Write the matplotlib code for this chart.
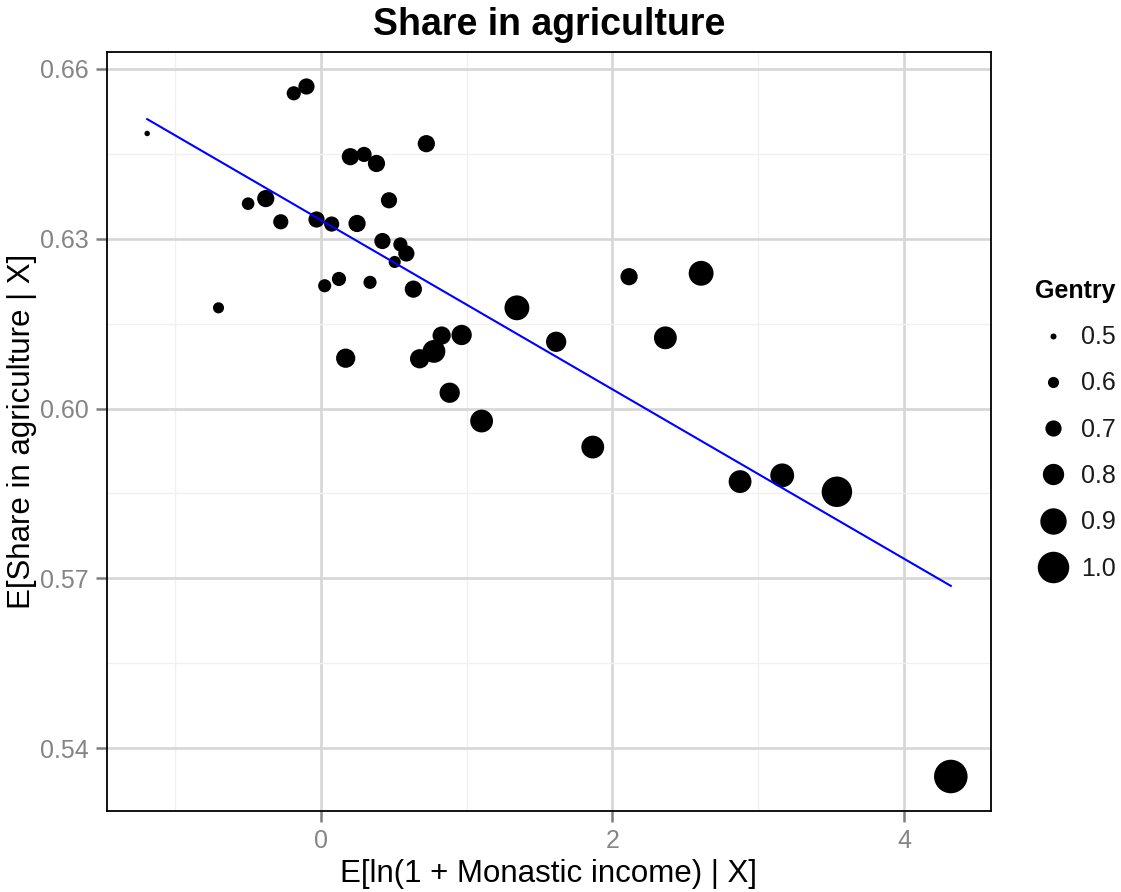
import numpy as np
import matplotlib
matplotlib.use('Agg')
import matplotlib.pyplot as plt
from matplotlib.lines import Line2D
from matplotlib.ticker import FixedLocator, FormatStrFormatter

plt.rcParams['font.family'] = ['Liberation Sans', 'DejaVu Sans']

# ---- data ----
monastic = np.array([-1.190, -0.185, -0.098, 0.724, 0.203, 0.297, 0.382, 0.468,
                     -0.498, -0.377, -0.274, -0.029, 0.075, 0.249, 0.423, 0.546,
                     0.587, 0.507, 0.125, 0.027, 0.338, 0.635, -0.701, 0.171,
                     0.829, 0.966, 0.776, 0.678, 1.345, 1.614, 2.114, 2.608,
                     2.363, 0.884, 1.103, 1.865, 2.875, 3.164, 3.539, 4.320])
agri = np.array([0.6486, 0.6557, 0.6569, 0.6468, 0.6445, 0.6449, 0.6433, 0.6368,
                 0.6362, 0.6371, 0.6330, 0.6334, 0.6326, 0.6327, 0.6296, 0.6290,
                 0.6274, 0.6259, 0.6229, 0.6217, 0.6223, 0.6211, 0.6178, 0.6089,
                 0.6129, 0.6130, 0.6101, 0.6088, 0.6178, 0.6118, 0.6233, 0.6239,
                 0.6125, 0.6028, 0.5978, 0.5932, 0.5871, 0.5882, 0.5853, 0.5350])
gentry = np.array([0.49, 0.66, 0.70, 0.72, 0.72, 0.68, 0.72, 0.70,
                   0.63, 0.72, 0.68, 0.70, 0.68, 0.72, 0.70, 0.66,
                   0.70, 0.62, 0.66, 0.64, 0.64, 0.72, 0.60, 0.76,
                   0.74, 0.78, 0.83, 0.76, 0.87, 0.78, 0.72, 0.87,
                   0.83, 0.78, 0.83, 0.83, 0.83, 0.85, 0.98, 1.04])

legend_levels = [0.5, 0.6, 0.7, 0.8, 0.9, 1.0]
legend_labels = ['0.5', '0.6', '0.7', '0.8', '0.9', '1.0']
x_major = [0, 2, 4]
x_minor = [-1, 1, 3]
y_major = [0.54, 0.57, 0.60, 0.63, 0.66]
y_minor = [0.555, 0.585, 0.615, 0.645]

title = 'Share in agriculture'
xlabel = 'E[ln(1 + Monastic income) | X]'
ylabel = 'E[Share in agriculture | X]'


def diam_pt(g):
    return (6 + 51 * (np.asarray(g, dtype=float) - 0.5)) * 0.72


W, H = 1121, 892
fig = plt.figure(figsize=(W / 100, H / 100), dpi=100)
left, right, top, bottom = 107, 991, 52, 811
ax = fig.add_axes([left / W, 1 - bottom / H, (right - left) / W, (bottom - top) / H])

ax.scatter(monastic, agri, s=diam_pt(gentry) ** 2, color='black',
           linewidths=0, zorder=3)

coef = np.polyfit(monastic, agri, 1)
xs = np.array([monastic.min(), monastic.max()])
ax.plot(xs, np.polyval(coef, xs), color='blue', lw=1.5, zorder=4)

xr = monastic.max() - monastic.min()
yr = agri.max() - agri.min()
ax.set_xlim(monastic.min() - 0.05 * xr, monastic.max() + 0.05 * xr)
ax.set_ylim(agri.min() - 0.05 * yr, agri.max() + 0.05 * yr)

ax.xaxis.set_major_locator(FixedLocator(x_major))
ax.xaxis.set_minor_locator(FixedLocator(x_minor))
ax.yaxis.set_major_locator(FixedLocator(y_major))
ax.yaxis.set_minor_locator(FixedLocator(y_minor))
ax.yaxis.set_major_formatter(FormatStrFormatter('%.2f'))
ax.xaxis.set_major_formatter(FormatStrFormatter('%d'))

ax.grid(which='major', color='#d6d6d6', lw=1.9, zorder=0)
ax.grid(which='minor', color='#f0f0f0', lw=1.0, zorder=0)
ax.set_axisbelow(True)

ax.tick_params(which='major', length=8, width=1.8, color='#7f7f7f',
               labelcolor='#858585', labelsize=18, pad=5)
ax.tick_params(which='minor', length=0)
for sp in ax.spines.values():
    sp.set_color('black')
    sp.set_linewidth(1.3)

ax.set_xlabel(xlabel, fontsize=22.5, labelpad=4.5)
ax.set_ylabel(ylabel, fontsize=22.5, labelpad=2)

fig.text((left + right) / 2 / W, 1 - 25 / H, title, ha='center', va='center',
         fontsize=27, fontweight='bold')

handles = [Line2D([], [], marker='o', linestyle='', markersize=diam_pt(g),
                  color='black', markeredgewidth=0) for g in legend_levels]
leg = ax.legend(handles, legend_labels, title='Gentry', loc='upper left',
                bbox_to_anchor=(1035 / W, 1 - 279 / H), bbox_transform=fig.transFigure,
                frameon=False, fontsize=18, labelspacing=0.89, handletextpad=0.4,
                handlelength=1.44, borderpad=0, borderaxespad=0, alignment='left',
                title_fontproperties={'weight': 'bold', 'size': 18})
for t in leg.get_texts():
    t.set_color('#1a1a1a')

fig.savefig('out.png', dpi=100)
